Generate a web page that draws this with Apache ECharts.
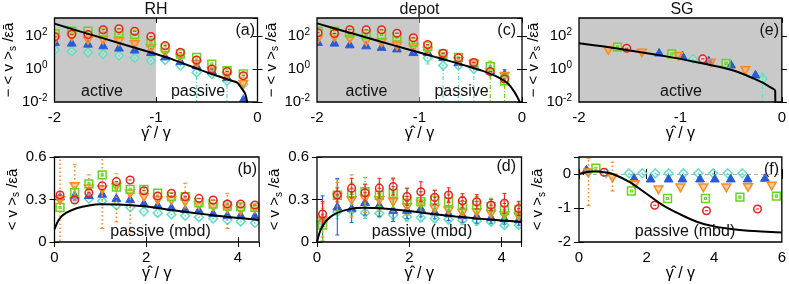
<!DOCTYPE html>
<html><head><meta charset="utf-8">
<script src="https://cdn.jsdelivr.net/npm/echarts@6/dist/echarts.min.js"></script>
<style>html,body{margin:0;padding:0;background:#fff}#c{width:789px;height:284px}</style>
</head><body><div id="c"></div>
<script>
// ================= DATA =================
const panelTitles = ['RH', 'depot', 'SG'];
const panelLabels = ['(a)', '(c)', '(e)', '(b)', '(d)', '(f)'];
const regionText = ['active', 'passive', 'passive (mbd)'];

// ---- (a) RH, -<v>_s vs gamma-hat/gamma (log) ----
const xA = [-1.995, -1.83, -1.67, -1.52, -1.365, -1.21, -1.05, -0.91, -0.76, -0.60, -0.45, -0.30, -0.14];
const aRed    = [89, 126, 123, 240, 275, 195, 93, 26, 10.2, 3.5, 1.0, 0.71, 0.39];
const aGreen  = [135, 195, 195, 170, 148, 123, 42, 19, 8.1, 5.1, 2.0, 0.79, 0.5];
const aOrange = [63, 93, 59, 59, 48, 33, 19, 10.2, 5.1, 2.0, 0.79, 0.39, 0.13];
const aBlue   = [42, 38, 33, 26, 19, 14.5, 10.2, 5.6, 2.9, 1.6, 0.79, 0.31, 0.014];
const aCyan   = [14.5, 11.7, 10.2, 8.1, 6.5, 4.7, 3.2, 3.5, 1.6, 0.62, 0.5, 0.19, 0.12];
const aCyanLo = [null, null, null, null, null, null, null, null, null, 0.005, null, 0.005, 0.005];
const curveA = [[-2, 560], [-1.75, 190], [-1.5, 67], [-1.25, 23], [-1, 8.1], [-0.85, 4.1], [-0.7, 1.85],
  [-0.55, 0.82], [-0.4, 0.39], [-0.28, 0.22], [-0.2, 0.15], [-0.15, 0.06], [-0.12, 0.03], [-0.1, 0.009]];

// ---- (c) depot ----
const xC = [-1.99, -1.83, -1.68, -1.52, -1.37, -1.22, -1.06, -0.92, -0.77, -0.62, -0.47, -0.31, -0.17];
const cRed    = [158, 141, 240, 240, 240, 148, 78, 30, 8.9, 4.7, 2.5, 0.71, 0.25];
const cGreen  = [195, 195, 148, 123, 123, 85, 42, 23, 8.1, 5.1, 2.2, 1.4, 0.19];
const cGreenLo = [null, null, null, null, null, null, null, null, null, null, null, 0.005, 0.005];
const cGreenHi = [null, null, null, null, null, null, null, null, null, null, null, 3.0, 0.45];
const cOrange = [68, 85, 68, 48, 42, 26, 21, 13, 6.5, 3.2, 2.0, 0.62, 0.39];
const cBlue   = [42, 38, 30, 26, 21, 17, 10.2, 10.2, 5.1, 2.5, 2.0, 0.79, 0.5];
const cBlueLo = [null, null, null, null, null, null, null, null, null, null, null, null, 0.3];
const cBlueHi = [null, null, null, null, null, null, null, null, null, null, null, null, 0.9];
const cCyan   = [null, null, null, null, null, null, null, 4.7, 1.6, 1.6, 1.0, null, null];
const cCyanLo = [null, null, null, null, null, null, null, 2.0, 0.005, 0.005, 0.005, null, null];
const cCyanHi = [null, null, null, null, null, null, null, 13, 3.0, 3.0, 2.0, null, null];
const curveC = [[-2, 580], [-1.75, 210], [-1.5, 76], [-1.25, 27], [-1, 10], [-0.85, 5.4], [-0.72, 3.2],
  [-0.55, 1.6], [-0.39, 0.79], [-0.23, 0.31], [-0.13, 0.12], [-0.07, 0.037], [-0.035, 0.015], [-0.015, 0.008]];

// ---- (e) SG ----
const eOrangeX = [-1.71, -1.38, -1.02, -0.70, -0.36];
const eOrangeY = [14.5, 10.2, 6.5, 2.5, 0.87];
const eGreenX = [-1.62, -1.085, -0.55];
const eGreenY = [21, 8.1, 2.2];
const eRedX = [-1.53, -0.78];
const eRedY = [18, 4.1];
const eBlueX = [-1.21, -0.98, -0.72, -0.50, -0.26];
const eBlueY = [9.5, 6.5, 3.2, 1.8, 0.45];
const eCyanX = [-0.875, -0.19];
const eCyanY = [4.1, 0.25];
const eCyanLo = [null, 0.005];
const eCyanHi = [null, 0.55];
const curveE = [[-2, 36], [-1.75, 23], [-1.5, 13.2], [-1.25, 7.6], [-1, 4.1], [-0.75, 2.0], [-0.53, 1.0],
  [-0.4, 0.55], [-0.27, 0.25], [-0.18, 0.14], [-0.11, 0.076], [-0.066, 0.05], [-0.064, 0.004]];

// ---- (b) RH, <v>_s (mbd) ----
const xB = [0.12, 0.44, 0.75, 1.04, 1.35, 1.65, 1.95, 2.25, 2.55, 2.85, 3.15, 3.46, 3.77, 4.06, 4.37];
const bRed    = [0.332, 0.296, 0.348, 0.396, 0.426, 0.438, 0.362, 0.325, 0.344, 0.32, 0.308, 0.296, 0.268, 0.268, 0.261];
const bGreen  = [0.244, 0.348, 0.41, 0.474, 0.387, 0.372, 0.372, 0.344, 0.32, 0.32, 0.277, 0.268, 0.254, 0.249, 0.244];
const bOrange = [0.296, 0.396, 0.38, 0.372, 0.39, 0.344, 0.32, 0.296, 0.296, 0.284, 0.261, 0.249, 0.237, 0.225, 0.237];
const bOrangeLo = [-0.05, 0.30, 0.33, 0.095, 0.142, 0.071, null, null, null, 0.24, null, null, 0.095, null, null];
const bOrangeHi = [0.7, 0.545, 0.474, 0.7, 0.481, 0.344, null, null, null, 0.415, null, null, 0.344, null, null];
const bBlue   = [0.32, 0.33, 0.33, 0.339, 0.308, 0.301, 0.273, 0.261, 0.244, 0.23, 0.225, 0.202, 0.19, 0.19, 0.183];
const bCyan   = [0.31, 0.31, 0.305, 0.29, 0.26, 0.245, 0.215, 0.205, 0.195, 0.185, 0.175, 0.165, 0.155, 0.145, 0.135];
const curveB = [[0, 0.09], [0.1, 0.16], [0.25, 0.205], [0.5, 0.24], [0.75, 0.258], [1, 0.266], [1.5, 0.263],
  [2, 0.25], [2.5, 0.228], [3, 0.207], [3.5, 0.187], [4, 0.17], [4.46, 0.155]];

// ---- (d) depot, <v>_s (mbd) ----
const xD = [0.12, 0.44, 0.75, 1.04, 1.35, 1.65, 1.95, 2.25, 2.55, 2.85, 3.15, 3.46, 3.77, 4.06, 4.37];
const dRed    = [0.197, 0.332, 0.38, 0.348, 0.38, 0.391, 0.32, 0.355, 0.315, 0.332, 0.291, 0.284, 0.261, 0.273, 0.237];
const dRedErr = [0.09, 0.05, 0.07, 0.06, 0.07, 0.06, 0.06, 0.07, 0.05, 0.05, 0.05, 0.05, 0.04, 0.07, 0.05];
const dGreen  = [0.119, 0.33, 0.344, 0.355, 0.33, 0.344, 0.296, 0.284, 0.296, 0.284, 0.261, 0.261, 0.249, 0.225, 0.225];
const dGreenErr = [0.12, 0.11, 0.13, 0.1, 0.08, 0.1, 0.08, 0.07, 0.07, 0.06, 0.06, 0.06, 0.06, 0.06, 0.05];
const dOrange = [0.154, 0.32, 0.296, 0.308, 0.296, 0.284, 0.249, 0.272, 0.237, 0.225, 0.206, 0.213, 0.202, 0.19, 0.183];
const dOrangeErr = [0.12, 0.1, 0.12, 0.1, 0.08, 0.07, 0.06, 0.06, 0.05, 0.05, 0.05, 0.04, 0.04, 0.04, 0.04];
const dBlue   = [0.166, 0.249, 0.237, 0.28, 0.261, 0.225, 0.225, 0.237, 0.213, 0.202, 0.19, 0.183, 0.173, 0.166, 0.159];
const dBlueErr = [0.16, 0.2, 0.1, 0.09, 0.08, 0.08, 0.06, 0.06, 0.05, 0.05, 0.05, 0.05, 0.04, 0.04, 0.04];
const dCyan   = [0.142, 0.213, 0.225, 0.206, 0.202, 0.19, 0.178, 0.173, 0.166, 0.159, 0.154, 0.149, 0.142, 0.119, 0.119];
const dCyanErr = [0.03, 0.05, 0.04, 0.04, 0.03, 0.03, 0.03, 0.03, 0.03, 0.03, 0.03, 0.03, 0.02, 0.02, 0.02];
const curveD = [[0, 0], [0.05, 0.06], [0.1, 0.1], [0.2, 0.15], [0.4, 0.2], [0.7, 0.232], [1, 0.242], [1.5, 0.235],
  [2, 0.218], [2.5, 0.198], [3, 0.18], [3.5, 0.165], [4, 0.152], [4.43, 0.142]];

// ---- (f) SG, <v>_s (mbd) ----
const fCyanX = [0.27, 0.8, 1.48, 1.87, 2.26, 2.65, 3.09, 3.53, 3.97, 4.4, 4.83];
const fCyanY = [0.06, 0.03, 0.02, 0.02, 0.02, 0.02, 0.02, 0.02, 0.02, 0.02, 0.02];
const fBlueX = [0.22, 1.63, 2.12, 2.65, 3.06, 3.58, 4.02, 4.49, 4.99, 5.5];
const fBlueY = [0.13, -0.12, -0.14, -0.14, -0.14, -0.14, -0.14, -0.14, -0.14, -0.12];
const fOrangeX = [0.28, 0.99, 1.65, 2.35, 3.0, 3.68, 4.36, 5.0, 5.7];
const fOrangeY = [0.05, -0.1, -0.29, -0.45, -0.39, -0.39, -0.39, -0.38, -0.34];
const fOrangeLo = [-0.93, -0.5, null, null, null, null, null, null, null];
const fOrangeHi = [0.45, 0.35, null, null, null, null, null, null, null];
const fGreenX = [0.5, 1.55, 2.62, 3.74, 4.76, 5.84];
const fGreenY = [0.17, -0.5, -0.72, -0.72, -0.68, -0.65];
const fRedX = [0.74, 2.24, 3.77, 5.28];
const fRedY = [0.05, -0.92, -1.08, -1.03];
const curveF = [[0, 0], [0.25, 0.06], [0.5, 0.08], [0.75, 0.05], [1, 0], [1.5, -0.24], [2, -0.58], [2.5, -0.93],
  [3, -1.19], [3.5, -1.41], [4, -1.54], [4.5, -1.62], [5, -1.67], [6, -1.72]];

// ================= CHART =================
const FF = '"Liberation Sans", Arial, Helvetica, sans-serif';
const grids = [
  {left: 54.5, top: 18, width: 203, height: 84},
  {left: 317, top: 18, width: 205, height: 84},
  {left: 579, top: 18, width: 206, height: 84},
  {left: 54.5, top: 157, width: 204.5, height: 85},
  {left: 317, top: 157, width: 204.5, height: 85},
  {left: 579, top: 157, width: 205, height: 85}
];
const xRange = [[-2, 0, 1], [-2, 0, 1], [-2, 0, 1], [0, 4.46, 2], [0, 4.43, 2], [0, 6, 2]];
const yRange = [[0.01, 1230, 2], [0.01, 1230, 2], [0.01, 1230, 2], [0, 0.6, 0.3], [0, 0.6, 0.3], [-2, 0.5, 1]];

const STY = {
  cyan:   {shape: 'diamond', stroke: '#5fe0c2', fill: 'rgba(255,255,255,0.15)', z: 2, dash: [4, 2, 1, 2], w: 1.2},
  blue:   {shape: 'triup', stroke: '#2a5bd7', fill: '#2a5bd7', z: 3, dash: null, w: 1.1},
  orange: {shape: 'tridown', stroke: '#ff8a1c', fill: 'rgba(255,165,80,0.55)', z: 4, dash: [1.5, 2.5], w: 1.6},
  green:  {shape: 'square', stroke: '#66d41a', fill: 'rgba(255,255,255,0.1)', z: 5, dash: [4, 2, 1, 2], w: 1.2},
  red:    {shape: 'circle', stroke: '#ee1f1f', fill: 'rgba(255,255,255,0.25)', z: 6, dash: null, w: 1.1}
};

function markerShapes(st, cx, cy) {
  const s = {stroke: st.stroke, fill: st.fill, lineWidth: 1.5};
  const inner = {stroke: st.stroke, fill: 'none', lineWidth: 1.1};
  switch (st.shape) {
    case 'circle': return [
      {type: 'circle', shape: {cx, cy, r: 3.8}, style: s},
      {type: 'line', shape: {x1: cx - 1.6, y1: cy, x2: cx + 1.6, y2: cy}, style: inner}];
    case 'square': return [
      {type: 'rect', shape: {x: cx - 3.9, y: cy - 3.9, width: 7.8, height: 7.8}, style: s},
      {type: 'rect', shape: {x: cx - 1, y: cy - 1, width: 2, height: 2}, style: inner}];
    case 'triup': return [
      {type: 'polygon', shape: {points: [[cx, cy - 4.4], [cx + 4.4, cy + 3.2], [cx - 4.4, cy + 3.2]]}, style: {stroke: st.stroke, fill: st.fill, lineWidth: 1}}];
    case 'tridown': return [
      {type: 'polygon', shape: {points: [[cx, cy + 4.4], [cx + 4.4, cy - 3.2], [cx - 4.4, cy - 3.2]]}, style: s}];
    default: return [
      {type: 'polygon', shape: {points: [[cx, cy - 4.4], [cx + 4.4, cy], [cx, cy + 4.4], [cx - 4.4, cy]]}, style: s},
      {type: 'circle', shape: {cx, cy, r: 0.9}, style: {fill: st.stroke}}];
  }
}

function mk(kind, g, xs, ys, lo, hi) {
  const st = STY[kind];
  const data = [];
  for (let i = 0; i < xs.length; i++) {
    if (ys[i] == null) continue;
    data.push([xs[i], ys[i], lo && lo[i] != null ? lo[i] : NaN, hi && hi[i] != null ? hi[i] : NaN]);
  }
  return {
    type: 'custom', xAxisIndex: g, yAxisIndex: g, z: st.z, clip: true, silent: true,
    dimensions: ['x', 'y', 'lo', 'hi'], encode: {x: 0, y: 1}, data,
    renderItem(params, api) {
      const x = api.value(0), y = api.value(1), l = api.value(2), h = api.value(3);
      const p = api.coord([x, y]);
      const ch = [];
      const hasL = !isNaN(l), hasH = !isNaN(h);
      if (hasL || hasH) {
        const pl = hasL ? api.coord([x, l])[1] : p[1];
        const ph = hasH ? api.coord([x, h])[1] : p[1];
        const ls = {stroke: st.stroke, lineWidth: st.w, lineDash: st.dash};
        ch.push({type: 'line', shape: {x1: p[0], y1: pl, x2: p[0], y2: ph}, style: ls});
        if (hasL) ch.push({type: 'line', shape: {x1: p[0] - 2, y1: pl, x2: p[0] + 2, y2: pl}, style: {stroke: st.stroke, lineWidth: 1}});
        if (hasH) ch.push({type: 'line', shape: {x1: p[0] - 2, y1: ph, x2: p[0] + 2, y2: ph}, style: {stroke: st.stroke, lineWidth: 1}});
      }
      markerShapes(st, p[0], p[1]).forEach(e => ch.push(e));
      return {type: 'group', children: ch};
    }
  };
}
function errLo(v, e) { return v.map((a, i) => a - e[i]); }
function errHi(v, e) { return v.map((a, i) => a + e[i]); }

function curve(g, data, smooth, extra) {
  return Object.assign({
    type: 'line', xAxisIndex: g, yAxisIndex: g, data, symbol: 'none', showSymbol: false,
    smooth: smooth, lineStyle: {color: '#000', width: 2}, z: 8, clip: true, silent: true
  }, extra || {});
}

const xAxes = [], yAxes = [];
const tickStyle = {show: true, inside: true, length: 5, lineStyle: {color: '#000', width: 1}};
for (let g = 0; g < 6; g++) {
  const [x0, x1, xi] = xRange[g];
  const [y0, y1, yi] = yRange[g];
  xAxes[g] = {
    gridIndex: g, type: 'value', min: x0, max: x1, interval: xi, position: 'bottom',
    axisLine: {show: false}, axisTick: tickStyle, splitLine: {show: false},
    axisLabel: {margin: 8, fontSize: 15, color: '#000', fontFamily: FF, showMaxLabel: !(g === 3 || g === 4)},
    name: 'γ\u0302 / γ', nameLocation: 'middle', nameGap: 22,
    nameTextStyle: {fontSize: 16, fontFamily: FF, color: '#000'}
  };
  xAxes[6 + g] = {
    gridIndex: g, type: 'value', min: x0, max: x1, interval: xi, position: 'top',
    axisLine: {show: false}, axisTick: tickStyle, splitLine: {show: false}, axisLabel: {show: false}
  };
  const isLog = g < 3;
  const yName = (g < 3 ? '\u2212 < v >' : '< v >') + '{sub|s} /εā';
  yAxes[g] = {
    gridIndex: g, type: isLog ? 'log' : 'value', logBase: 10, min: y0, max: y1, interval: yi, position: 'left',
    axisLine: {show: false}, axisTick: tickStyle, splitLine: {show: false},
    axisLabel: isLog ? {
      margin: 7, fontSize: 15, color: '#000', fontFamily: FF, showMaxLabel: false,
      formatter: v => '10{s|' + Math.round(Math.log10(v)) + '}',
      rich: {s: {fontSize: 10, fontFamily: FF, color: '#000', padding: [0, 0, 8, 0]}}
    } : {margin: 8, fontSize: 15, color: '#000', fontFamily: FF, showMaxLabel: g !== 5},
    name: yName, nameLocation: 'middle', nameGap: 32, nameRotate: 90,
    nameTextStyle: {fontSize: 15, fontFamily: FF, color: '#000',
      rich: {sub: {fontSize: 10, fontFamily: FF, color: '#000', padding: [8, 0, 0, 0]}}}
  };
  yAxes[6 + g] = {
    gridIndex: g, type: isLog ? 'log' : 'value', logBase: 10, min: y0, max: y1, interval: yi, position: 'right',
    axisLine: {show: false}, axisTick: tickStyle, splitLine: {show: false}, axisLabel: {show: false}
  };
}

const gray = '#c9c9c9';
const series = [
  // (a)
  curve(0, curveA, 0.2, {markArea: {silent: true, itemStyle: {color: gray}, data: [[{xAxis: -2}, {xAxis: -1}]]}}),
  mk('cyan', 0, xA, aCyan, aCyanLo, null),
  mk('blue', 0, xA, aBlue), mk('orange', 0, xA, aOrange), mk('green', 0, xA, aGreen), mk('red', 0, xA, aRed),
  // (c)
  curve(1, curveC, 0.2, {markArea: {silent: true, itemStyle: {color: gray}, data: [[{xAxis: -2}, {xAxis: -1}]]}}),
  mk('cyan', 1, xC, cCyan, cCyanLo, cCyanHi),
  mk('blue', 1, xC, cBlue, cBlueLo, cBlueHi), mk('orange', 1, xC, cOrange),
  mk('green', 1, xC, cGreen, cGreenLo, cGreenHi), mk('red', 1, xC, cRed),
  // (e)
  curve(2, curveE, 0.15, {markArea: {silent: true, itemStyle: {color: gray}, data: [[{xAxis: -2}, {xAxis: 0}]]}}),
  mk('cyan', 2, eCyanX, eCyanY, eCyanLo, eCyanHi),
  mk('blue', 2, eBlueX, eBlueY), mk('orange', 2, eOrangeX, eOrangeY),
  mk('green', 2, eGreenX, eGreenY), mk('red', 2, eRedX, eRedY),
  // (b)
  curve(3, curveB, 0.3),
  mk('cyan', 3, xB, bCyan), mk('blue', 3, xB, bBlue), mk('orange', 3, xB, bOrange, bOrangeLo, bOrangeHi),
  mk('green', 3, xB, bGreen), mk('red', 3, xB, bRed),
  // (d)
  curve(4, curveD, 0.3),
  mk('cyan', 4, xD, dCyan, errLo(dCyan, dCyanErr), errHi(dCyan, dCyanErr)),
  mk('blue', 4, xD, dBlue, errLo(dBlue, dBlueErr), errHi(dBlue, dBlueErr)),
  mk('orange', 4, xD, dOrange, errLo(dOrange, dOrangeErr), errHi(dOrange, dOrangeErr)),
  mk('green', 4, xD, dGreen, errLo(dGreen, dGreenErr), errHi(dGreen, dGreenErr)),
  mk('red', 4, xD, dRed, errLo(dRed, dRedErr), errHi(dRed, dRedErr)),
  // (f)
  curve(5, curveF, 0.3, {markLine: {silent: true, symbol: 'none', z: 1, label: {show: false},
    lineStyle: {color: '#b0b0b0', type: [4, 3], width: 1}, data: [{yAxis: 0}]}}),
  mk('cyan', 5, fCyanX, fCyanY), mk('blue', 5, fBlueX, fBlueY),
  mk('orange', 5, fOrangeX, fOrangeY, fOrangeLo, fOrangeHi),
  mk('green', 5, fGreenX, fGreenY), mk('red', 5, fRedX, fRedY)
];

function txt(text, x, y, size, align) {
  return {type: 'text', x, y, z: 20, silent: true,
    style: {text, fontSize: size, fontFamily: FF, fill: '#111', align: align || 'center', verticalAlign: 'middle'}};
}
const graphic = [
  txt(panelTitles[0], 156, 10, 16), txt(panelTitles[1], 419.5, 10, 16), txt(panelTitles[2], 682, 10, 16),
  txt(panelLabels[0], 255, 31, 16, 'right'), txt(panelLabels[1], 516, 31, 16, 'right'), txt(panelLabels[2], 779, 31, 16, 'right'),
  txt(panelLabels[3], 257, 170, 16, 'right'), txt(panelLabels[4], 516, 167, 16, 'right'), txt(panelLabels[5], 779, 170, 16, 'right'),
  txt(regionText[0], 102, 92, 16), txt(regionText[1], 198, 92, 16),
  txt(regionText[0], 366.5, 92, 16), txt(regionText[1], 461.5, 92, 16),
  txt(regionText[0], 681, 92, 16),
  txt(regionText[2], 160.5, 232, 16), txt(regionText[2], 422, 232, 16), txt(regionText[2], 685, 232, 16)
];

const chart = echarts.init(document.getElementById('c'), null, {renderer: 'canvas'});
chart.setOption({
  animation: false,
  backgroundColor: '#fff',
  grid: grids.map(g => Object.assign({show: true, borderColor: '#000', borderWidth: 1.3, backgroundColor: 'transparent', z: 10}, g)),
  xAxis: xAxes,
  yAxis: yAxes,
  series,
  graphic
});
</script></body></html>
